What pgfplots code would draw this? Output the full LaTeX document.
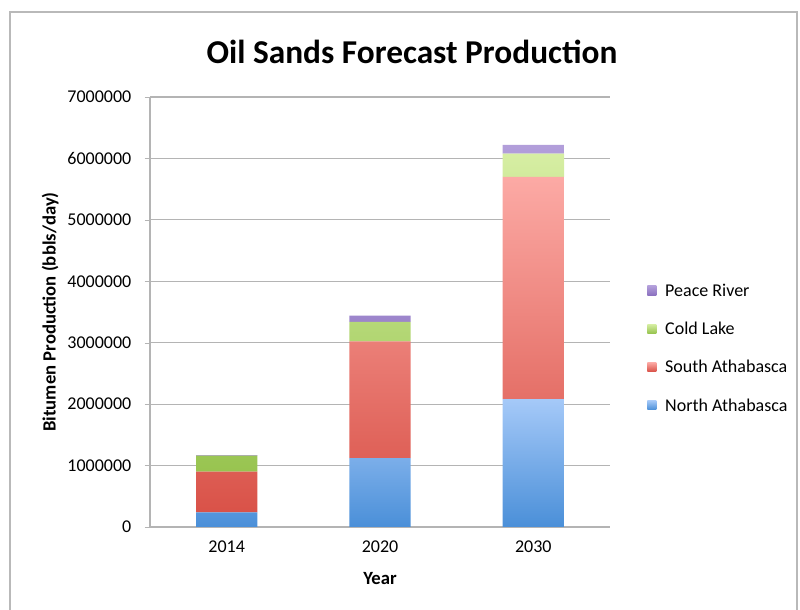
\documentclass[border=0pt]{standalone}
\usepackage{fontspec}
\setmainfont{Carlito}
\usepackage{pgfplots}
\pgfplotsset{compat=1.18}
\definecolor{gridc}{RGB}{180,180,180}
\definecolor{nAt}{RGB}{165,201,248}
\definecolor{nAb}{RGB}{74,143,216}
\definecolor{sAt}{RGB}{252,170,165}
\definecolor{sAb}{RGB}{217,82,72}
\definecolor{cLt}{RGB}{214,238,163}
\definecolor{cLb}{RGB}{152,196,80}
\definecolor{pRt}{RGB}{178,158,218}
\definecolor{pRb}{RGB}{140,114,192}
\begin{document}
\begin{tikzpicture}[x=0.75pt,y=0.75pt]
\path[use as bounding box] (0,0) rectangle (800,610);
\draw[gray!55, line width=1.2pt] (10,-20) -- (10,598) -- (797,598) -- (797,-20);
\node[font=\fontsize{25}{30}\selectfont\bfseries] at (412,558) {Oil Sands Forecast Production};
\begin{axis}[
  at={(112.5pt,62.25pt)}, anchor=south west,
  scale only axis, width=345pt, height=322.5pt,
  ybar stacked, bar width=0.4,
  xmin=-0.5, xmax=2.5, ymin=0, ymax=7000000,
  xtick={0,1,2}, xticklabels={2014,2020,2030},
  major tick length=4pt,
  x tick style={draw=none},
  extra x ticks={-0.5,0.5,1.5,2.5}, extra x tick labels={},
  extra x tick style={tick style={draw=gridc}, grid=none},
  ytick={0,1000000,...,7000000},
  scaled y ticks=false,
  yticklabel style={/pgf/number format/fixed, /pgf/number format/1000 sep={}, /pgf/number format/assume math mode=true, font=\fontsize{13.5}{16}\selectfont, xshift=-6.5pt},
  xticklabel style={font=\fontsize{13.5}{16}\selectfont, yshift=-3pt},
  y tick style={draw=gridc},
  tick align=outside,
  axis lines*=left,
  axis line style={draw=gridc, line width=0.8pt},
  ymajorgrids, grid style={draw=gridc, line width=0.8pt},
  xlabel={\bfseries Year}, ylabel={\bfseries Bitumen Production (bbls/day)},
  xlabel style={font=\fontsize{14}{17}\selectfont, at={(axis description cs:0.5,-0.119)}, anchor=center},
  ylabel style={font=\fontsize{14}{17}\selectfont, at={(axis description cs:-0.217,0.5)}, anchor=center},
  reverse legend,
  legend style={at={(1.072,0.578)}, anchor=north west, draw=none, fill=none,
    font=\fontsize{13.5}{16}\selectfont, row sep=13.8pt,
    legend cell align=left},
  legend image code/.code={\path[#1] (0cm,-0.1cm) rectangle (0.24cm,0.14cm); \path (0.40cm,0cm);},
]
\addplot[draw=none, top color=nAt, bottom color=nAb] coordinates {(0,240000) (1,1120000) (2,2080000)};
\addplot[draw=none, top color=sAt, bottom color=sAb] coordinates {(0,660000) (1,1900000) (2,3620000)};
\addplot[draw=none, top color=cLt, bottom color=cLb] coordinates {(0,260000) (1,320000) (2,380000)};
\addplot[draw=none, top color=pRt, bottom color=pRb] coordinates {(0,10000) (1,100000) (2,140000)};
\legend{North Athabasca, South Athabasca, Cold Lake, Peace River}
\end{axis}
\end{tikzpicture}
\end{document}
